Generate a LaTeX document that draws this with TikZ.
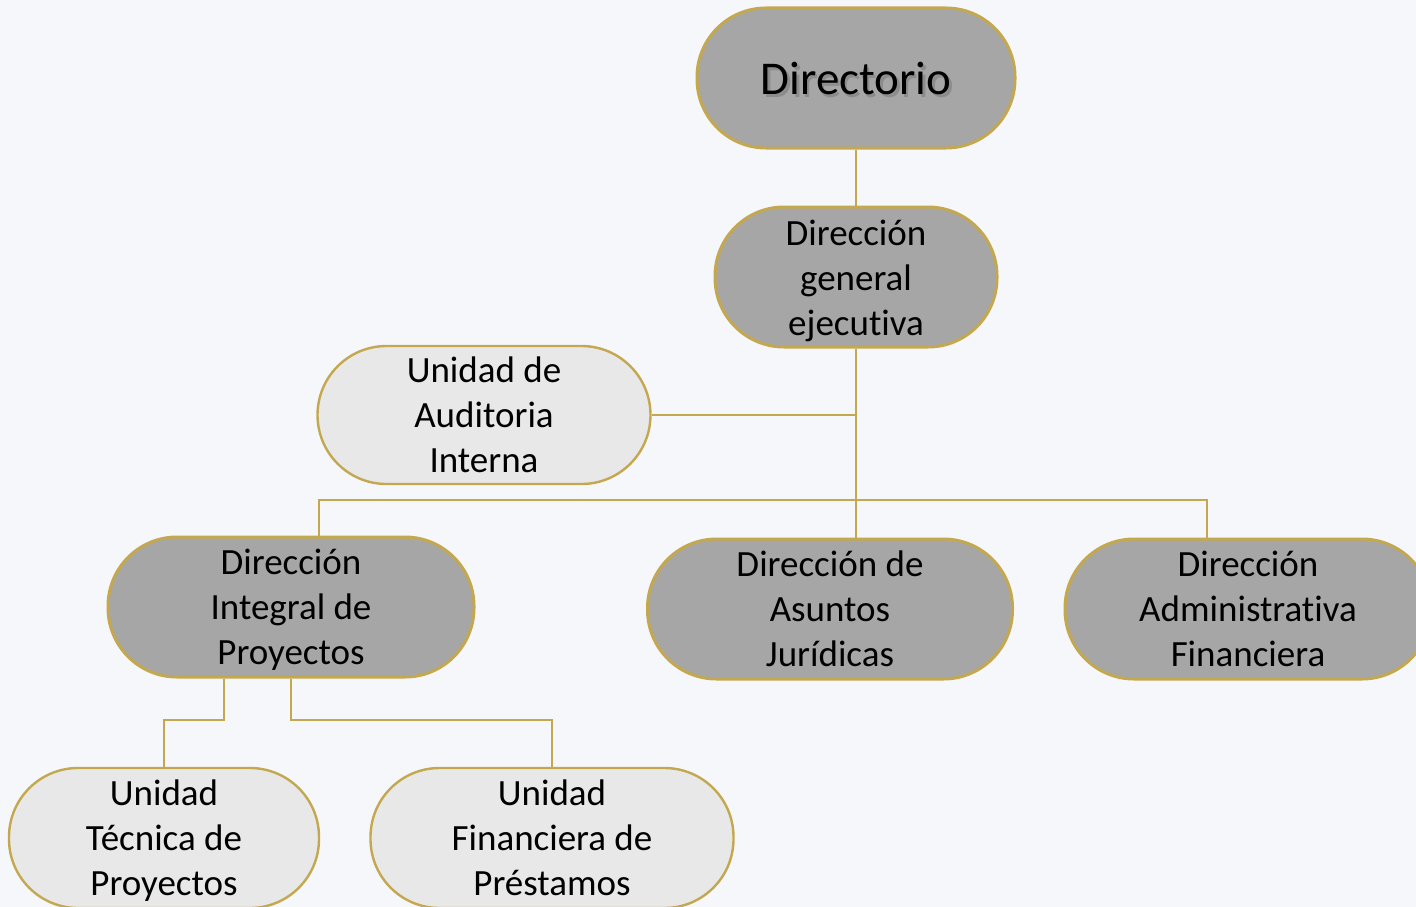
\documentclass[tikz,border=0pt]{standalone}
\usepackage{fontspec}
\setmainfont[Ligatures={NoCommon}]{Carlito}
\definecolor{gold}{HTML}{C4A84F}
\definecolor{darkfill}{HTML}{A6A6A6}
\definecolor{lightfill}{HTML}{E8E8E8}
\definecolor{bg}{HTML}{F6F7FB}
\tikzset{
  stad/.style={draw=gold, rounded corners=69pt, minimum height=140pt, inner sep=0pt},
  darkbox/.style={stad, fill=darkfill, line width=3pt},
  lightbox/.style={stad, fill=lightfill, line width=2.4pt, minimum height=138pt},
  txt/.style={align=center, inner sep=0pt, font=\fontsize{37}{45}\selectfont, text=black},
  conn/.style={draw=gold, line width=1.5pt},
  bigtext/.style={font=\fontsize{47}{54}\selectfont}
}
\begin{document}
\begin{tikzpicture}[x=1pt,y=-1pt]
\useasboundingbox (0,0) rectangle (1416,907);
\fill[bg] (0,0) rectangle (1416,907);
\clip (0,0) rectangle (1416,907);
% shapes
\node[darkbox, minimum width=318pt] (dir) at (856,78) {};
\node[darkbox, minimum width=282pt] (dge) at (856,277) {};
\node[lightbox, minimum width=333pt] (aud) at (484,415) {};
\node[darkbox, minimum width=366pt] (int) at (291,607) {};
\node[darkbox, minimum width=365pt] (asu) at (830,609) {};
\node[darkbox, minimum width=366pt] (adm) at (1248,609) {};
\node[lightbox, minimum width=310pt, minimum height=140pt] (utp) at (164,838) {};
\node[lightbox, minimum width=363pt, minimum height=140pt] (ufp) at (552,838) {};
% texts
\node[bigtext, text=black!55, opacity=0.5] (dirs) at ([xshift=2.5pt,yshift=-4pt]dir.center) {Directorio};
\node[bigtext] (dirt) at ([yshift=-1pt]dir.center) {Directorio};
\node[txt] (dget) at ([yshift=-4pt]dge.center) {Dirección\\general\\ejecutiva};
\node[txt] (audt) at (aud.center) {Unidad de\\Auditoria\\Interna};
\node[txt] (intt) at ([yshift=-3pt]int.center) {Dirección\\Integral de\\Proyectos};
\node[txt] (asut) at (asu.center) {Dirección de\\Asuntos\\Jurídicas};
\node[txt] (admt) at (adm.center) {Dirección\\Administrativa\\Financiera};
\node[txt] (utpt) at ([yshift=-3pt]utp.center) {Unidad\\Técnica de\\Proyectos};
\node[txt] (ufpt) at (ufp.center) {Unidad\\Financiera de\\Préstamos};
% coordinates
\coordinate (bl) at (319,500);
\coordinate (br) at (1207,500);
\coordinate (i1) at (224,720);
\coordinate (i2) at (291,720);
% connectors
\draw[conn] (dir.south) -- (dge.north);
\draw[conn] (dge.south) -- (dge.south |- asu.north);
\draw[conn] (aud.east) -- (aud.east -| dge.south);
\draw[conn] (int.north -| bl) -- (bl) -- (br) -- (adm.north -| br);
\draw[conn] (int.south -| i1) -- (i1) -| (utp.north);
\draw[conn] (int.south) -- (i2) -| (ufp.north);
\end{tikzpicture}
\end{document}
